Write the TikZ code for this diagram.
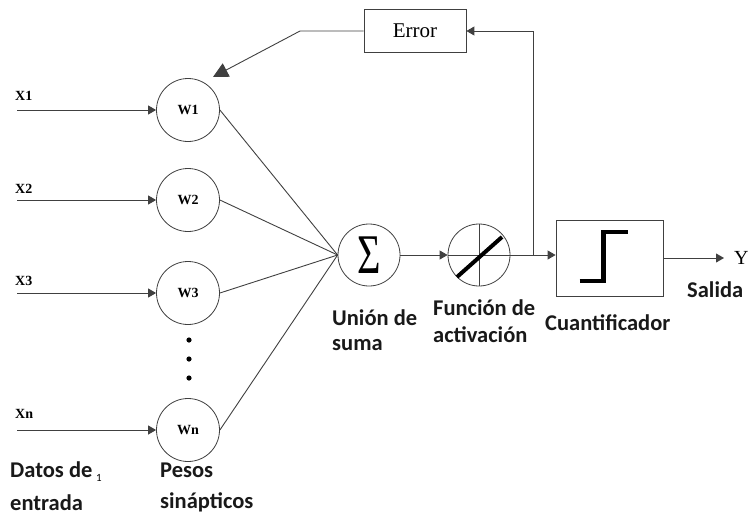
\documentclass[tikz,border=0pt]{standalone}
\usepackage{fontspec}
\setmainfont{Liberation Serif}
\newfontfamily\labfont{Carlito}
\usetikzlibrary{arrows.meta}
\begin{document}
\begin{tikzpicture}[x=1pt,y=-1pt,
  wc/.style={circle,draw=black!75,line width=0.8pt,minimum size=63pt,inner sep=0pt,font=\bfseries\fontsize{14}{14}\selectfont},
  bigc/.style={circle,draw=black!75,line width=0.8pt,minimum size=62pt,inner sep=0pt},
  ln/.style={draw=black!75,line width=0.9pt},
  arr/.style={ln,-{Triangle[length=8pt,width=9pt]}},
  lbl/.style={font=\labfont\bfseries\fontsize{22.5}{27}\selectfont,anchor=base west,inner sep=0pt,text=black!90},
  xl/.style={font=\bfseries\fontsize{14}{14}\selectfont,anchor=base west,inner sep=0pt}]
\useasboundingbox (0,0) rectangle (749,520);

% weight circles
\node[wc] (w1) at (188,110) {W1};
\node[wc] (w2) at (188,200) {W2};
\node[wc] (w3) at (188,293) {W3};
\node[wc] (wn) at (188,430) {Wn};

% input labels and arrows
\node[xl] (lx1) at (15,100) {X1};
\node[xl] (lx2) at (15,193) {X2};
\node[xl] (lx3) at (15,285) {X3};
\node[xl] (lxn) at (15,418) {Xn};
\coordinate (x1s) at (17,110);
\coordinate (x2s) at (17,200);
\coordinate (x3s) at (17,293);
\coordinate (xns) at (17,430);
\draw[arr] (x1s) -- (w1);
\draw[arr] (x2s) -- (w2);
\draw[arr] (x3s) -- (w3);
\draw[arr] (xns) -- (wn);

% dots
\fill (189,340) circle (2.6pt);
\fill (189,359) circle (2.6pt);
\fill (189,378) circle (2.6pt);

% summation and activation
\node[bigc] (sig) at (369,255) {\scalebox{0.72}[1]{\fontsize{56}{56}\selectfont Σ}};
\node[bigc] (act) at (479,255) {};
\draw[ln,line width=0.6pt] (act.west) -- (act.east);
\draw[ln,line width=0.6pt] (act.north) -- (act.south);
\draw[line width=4pt] ([shift={(-22,22)}]act.center) -- ([shift={(23,-18)}]act.center);

% quantifier
\node[draw=black!75,line width=0.8pt,minimum width=107pt,minimum height=76pt,inner sep=0pt] (quant) at (609.5,258) {};
\draw[line width=4.5pt] ([shift={(-30,23)}]quant.center) -- ++(24,0) -- ++(0,-49) -- ++(24,0);

% error box
\node[draw=black!75,line width=0.8pt,minimum width=102pt,minimum height=43pt,inner sep=0pt,font=\fontsize{21}{21}\selectfont] (err) at (415,31) {Error};

% output
\node[font=\fontsize{20}{20}\selectfont,anchor=west,inner sep=0pt] (yout) at (734,258) {Y};
\coordinate (ytip) at (724,258);
\draw[arr] (quant.east |- ytip) -- (ytip);

% connections weights -> sum
\draw[ln] (w1.east) -- (sig.west);
\draw[ln] (w2.east) -- (sig.west);
\draw[ln] (w3.east) -- (sig.west);
\draw[ln] (wn.east) -- (sig.west);

% sum -> activation -> quantifier
\draw[arr] (sig) -- (act);
\draw[arr] (act.east) -- (quant.west |- act.east);

% feedback
\coordinate (br) at (533,255);
\draw[arr] (br) -- (br |- err.east) -- (err.east);
\coordinate (bend) at (300,31);
\coordinate (tip) at (213,77);
\draw[ln,-{Triangle[length=15pt,width=15pt]}] (err.west) -- (bend) -- (tip);

% labels
\node[lbl] (l1) at (10,477) {Datos de};
\node[font=\labfont\fontsize{11}{11}\selectfont,anchor=base west,inner sep=0pt] (l1s) at (96,481) {1};
\node[lbl] (l2) at (10,510) {entrada};
\node[lbl] (l3) at (160,477) {Pesos};
\node[lbl] (l4) at (160,508) {sinápticos};
\node[lbl] (l5) at (332,325) {Unión de};
\node[lbl] (l6) at (332,350) {suma};
\node[lbl] (l7) at (433,315) {Función de};
\node[lbl] (l8) at (433,342) {activación};
\node[lbl] (l9) at (545,330) {Cuantificador};
\node[lbl] (l10) at (687,297) {Salida};
\end{tikzpicture}
\end{document}
